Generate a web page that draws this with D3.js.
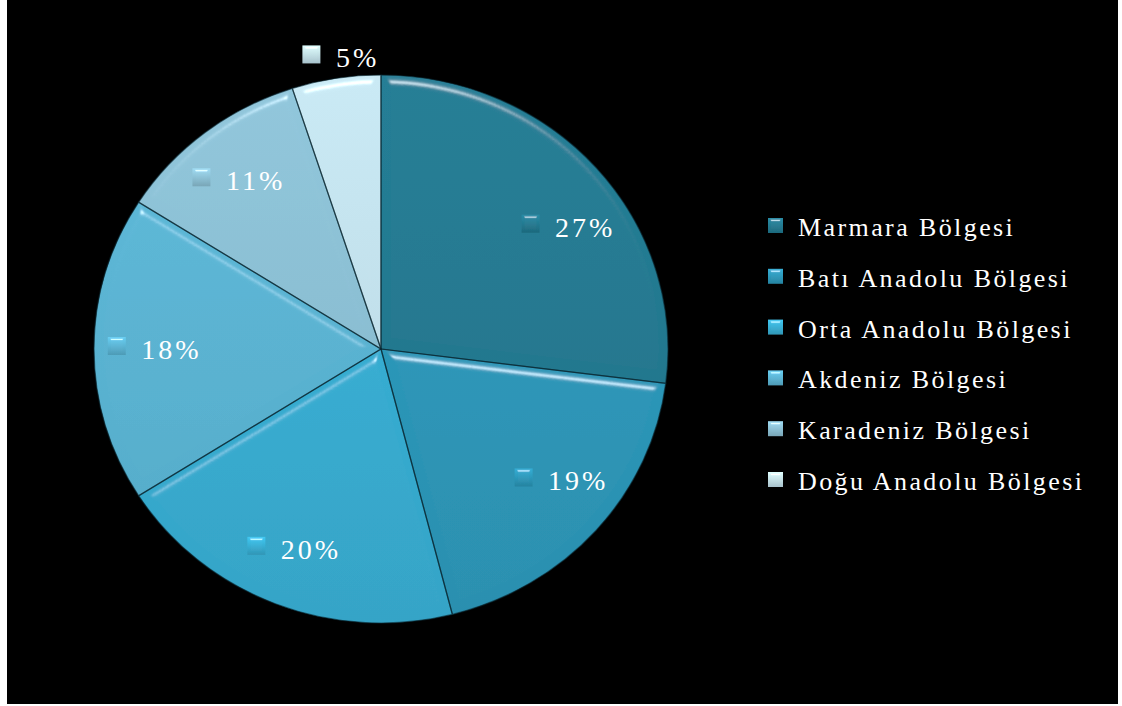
<!DOCTYPE html>
<html>
<head>
<meta charset="utf-8">
<script src="https://cdn.jsdelivr.net/npm/d3@7"></script>
<style>
html,body{margin:0;padding:0;background:#fff;}
svg{display:block;}
text{font-family:"Liberation Serif","Times New Roman",Tinos,serif;}
</style>
</head>
<body>
<svg id="chart" width="1122" height="706"></svg>
<script>
// ---- data ----
const categories = ["Marmara Bölgesi","Batı Anadolu Bölgesi","Orta Anadolu Bölgesi","Akdeniz Bölgesi","Karadeniz Bölgesi","Doğu Anadolu Bölgesi"];
const values = [27, 19, 20, 18, 11, 5];
const labels = ["27%","19%","20%","18%","11%","5%"];

// ---- style ----
const colors = ["#237990","#2c97b9","#37add2","#5ab3d2","#8bbfd3","#c2e0eb"];
const labelNudgeDeg = [7, -4, 1, 0, -1, 3];

const W = 1122, H = 706;
const cx = 381, cy = 349, rx = 287, ry = 274;

const svg = d3.select("#chart");
const defs = svg.append("defs");

function bevel(id, std, scale, exp, k3){
  const f = defs.append("filter").attr("id", id)
    .attr("x","-20%").attr("y","-20%").attr("width","140%").attr("height","140%");
  f.append("feGaussianBlur").attr("in","SourceAlpha").attr("stdDeviation",std).attr("result","blur");
  const s = f.append("feSpecularLighting").attr("in","blur").attr("surfaceScale",scale)
    .attr("specularConstant",1).attr("specularExponent",exp)
    .attr("lighting-color","#ffffff").attr("result","spec");
  s.append("feDistantLight").attr("azimuth",270).attr("elevation",30);
  f.append("feComposite").attr("in","spec").attr("in2","SourceAlpha").attr("operator","in").attr("result","specIn");
  f.append("feComposite").attr("in","SourceGraphic").attr("in2","specIn")
    .attr("operator","arithmetic").attr("k1",0).attr("k2",1).attr("k3",k3).attr("k4",0);
}
bevel("bevel", 5, 9, 40, 0.5);
bevel("bevelSmall", 1.5, 3.5, 30, 0.5);

colors.forEach((c,i)=>{
  const g = defs.append("linearGradient").attr("id","grad"+i)
    .attr("gradientUnits","userSpaceOnUse").attr("x1",0).attr("y1",-rx).attr("x2",0).attr("y2",rx);
  g.append("stop").attr("offset","0%").attr("stop-color", d3.color(c).brighter(0.12));
  g.append("stop").attr("offset","100%").attr("stop-color", d3.color(c).darker(0.15));
  const m = defs.append("linearGradient").attr("id","mgrad"+i).attr("x1",0).attr("y1",0).attr("x2",0).attr("y2",1);
  m.append("stop").attr("offset","0%").attr("stop-color", d3.color(c).brighter(0.4));
  m.append("stop").attr("offset","100%").attr("stop-color", d3.color(c).darker(0.4));
});

svg.append("rect").attr("x",0).attr("y",0).attr("width",W).attr("height",H).attr("fill","#ffffff");
svg.append("rect").attr("x",7).attr("y",0).attr("width",1111).attr("height",704).attr("fill","#000000");

const pie = d3.pie().sort(null).value(d=>d).startAngle(0).endAngle(2*Math.PI);
const arcs = pie(values);
const arc = d3.arc().innerRadius(0).outerRadius(rx);

const pg = svg.append("g").attr("transform",`translate(${cx},${cy}) scale(1,${ry/rx})`);
pg.selectAll("path.slice").data(arcs).join("path")
  .attr("class","slice")
  .attr("d", arc)
  .attr("fill",(d,i)=>`url(#grad${i})`)
  .attr("filter","url(#bevel)");
pg.selectAll("path.edge").data(arcs).join("path")
  .attr("class","edge")
  .attr("d", arc)
  .attr("fill","none")
  .attr("stroke","rgba(10,40,50,0.6)")
  .attr("stroke-width",1.3);

const lg = svg.append("g");
arcs.forEach((d,i)=>{
  const mid = (d.startAngle + d.endAngle)/2 + labelNudgeDeg[i]*Math.PI/180;
  const f = values[i] < 8 ? 1.07 : 0.79;
  const gx = cx + f*rx*Math.sin(mid);
  const gy = cy - f*ry*Math.cos(mid);
  lg.append("rect").attr("x", gx-46.5).attr("y", gy-12).attr("width",18).attr("height",18)
    .attr("fill",`url(#mgrad${i})`).attr("filter","url(#bevelSmall)");
  lg.append("text").attr("x", gx-13).attr("y", gy+10)
    .attr("font-size",28).attr("letter-spacing","3px")
    .attr("fill","#ffffff").text(labels[i]);
});

const leg = svg.append("g");
const rowY = d3.scalePoint().domain(d3.range(categories.length)).range([236, 490]);
categories.forEach((c,i)=>{
  const y = rowY(i);
  leg.append("rect").attr("x",768).attr("y",y-18).attr("width",15).attr("height",15)
    .attr("fill",`url(#mgrad${i})`).attr("filter","url(#bevelSmall)");
  leg.append("text").attr("x",798).attr("y",y)
    .attr("font-size",26).attr("letter-spacing","2.4px")
    .attr("fill","#ffffff").text(c);
});
</script>
</body>
</html>
